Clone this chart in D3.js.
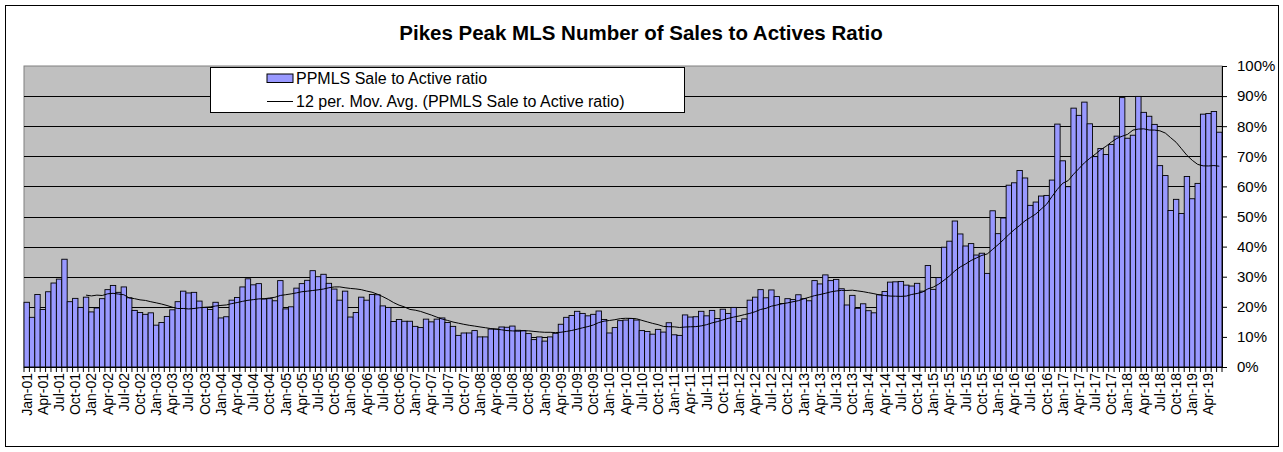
<!DOCTYPE html>
<html>
<head>
<meta charset="utf-8">
<script src="https://cdn.jsdelivr.net/npm/d3@7"></script>
<style>
  body { margin: 0; background: #fff; }
  text { font-family: "Liberation Sans", Arial, sans-serif; }
</style>
</head>
<body>
<svg id="chart" width="1283" height="452"></svg>
<script>
// month + year parts used for the category names (Jan-01 .. Jun-19)
var monthNames = ["Jan","Feb","Mar","Apr","May","Jun","Jul","Aug","Sep","Oct","Nov","Dec"];
var years = ["01","02","03","04","05","06","07","08","09","10",
             "11","12","13","14","15","16","17","18","19"];
var categories = years.flatMap(function(y) {
  return monthNames.map(function(m) { return m + "-" + y; });
}).slice(0, 222);

// PPMLS sale to active ratio, in percent
var ratio = [
  21.5,16.5,24.1,19.1,25.0,27.9,29.2,35.8,21.7,22.8,19.8,23.2,
  18.3,19.6,22.7,25.7,27.1,24.8,26.6,23.0,18.8,18.1,17.5,18.0,
  13.9,14.8,16.8,19.0,21.7,25.2,24.6,24.8,21.9,19.8,19.1,21.5,
  16.3,16.7,22.2,23.1,26.6,29.3,27.3,27.7,22.6,22.7,22.0,28.7,
  19.3,20.0,26.2,27.7,28.8,32.0,30.0,30.8,27.8,25.9,22.2,25.2,
  16.6,18.1,23.2,22.2,24.1,24.0,20.3,19.8,15.1,15.8,15.2,15.2,
  13.5,13.1,15.9,15.0,15.9,16.3,14.8,13.5,10.5,11.3,11.3,12.1,
  10.0,10.0,12.6,12.6,13.3,13.2,13.6,12.2,12.1,11.1,9.1,10.0,
  8.6,10.0,11.2,14.2,16.5,17.1,18.5,17.8,17.0,17.5,18.6,15.8,
  11.3,13.1,15.4,15.6,16.1,15.6,12.1,11.8,10.9,12.5,11.6,14.7,
  10.7,10.5,17.3,16.6,16.7,18.5,17.0,18.8,16.1,19.2,17.8,19.8,
  15.1,16.0,22.2,23.2,25.7,23.0,25.6,23.4,21.1,22.7,22.4,24.0,
  22.7,22.0,28.7,27.6,30.6,28.7,29.1,26.0,20.6,23.8,19.5,21.0,
  18.7,18.0,24.0,25.1,28.2,28.3,28.4,27.2,26.9,27.8,25.2,33.7,
  25.8,29.7,39.8,41.8,48.5,44.2,40.2,41.0,37.2,37.8,31.1,51.9,
  44.3,49.5,60.4,61.2,65.3,62.8,53.7,54.8,56.8,57.0,62.1,80.7,
  68.5,59.9,86.0,83.6,88.0,80.8,69.9,72.6,70.6,73.9,76.7,89.5,
  76.0,77.0,89.9,84.6,83.3,80.6,66.9,63.6,52.0,55.7,51.0,63.3,
  55.9,61.0,84.0,84.2,84.9,78.0
];

var yTicks = [0,10,20,30,40,50,60,70,80,90,100];

// 12 period moving average trendline (as the Excel trendline does)
var period = 12;
var movAvg = ratio.map(function(v, i) {
  return i < period - 1 ? null : d3.mean(ratio.slice(i - period + 1, i + 1));
});

var svg = d3.select("#chart");

// outer chart frame
svg.append("rect")
  .attr("x", 5.5).attr("y", 5.5)
  .attr("width", 1273).attr("height", 441)
  .attr("fill", "#fff").attr("stroke", "#000");

// title
svg.append("text")
  .attr("x", 641).attr("y", 40)
  .attr("text-anchor", "middle")
  .style("font-size", "20.5px")
  .style("font-weight", "bold")
  .text("Pikes Peak MLS Number of Sales to Actives Ratio");

// plot area edges
var plotLeft = 24, plotRight = 1222, plotTop = 66, plotBottom = 367;

var x = d3.scaleBand()
  .domain(categories)
  .range([plotLeft, plotRight])
  .padding(0);

var y = d3.scaleLinear()
  .domain([0, 100])
  .range([plotBottom, plotTop]);

// plot area
svg.append("rect")
  .attr("x", plotLeft).attr("y", plotTop)
  .attr("width", plotRight - plotLeft).attr("height", plotBottom - plotTop)
  .attr("fill", "#c0c0c0")
  .attr("stroke", "#808080");

// gridlines
svg.append("g")
  .selectAll("line")
  .data(yTicks.slice(1, -1))
  .join("line")
    .attr("x1", plotLeft).attr("x2", plotRight)
    .attr("y1", function(d) { return Math.round(y(d)) + 0.5; })
    .attr("y2", function(d) { return Math.round(y(d)) + 0.5; })
    .attr("stroke", "#000");

// bars
svg.append("g")
  .selectAll("rect")
  .data(ratio)
  .join("rect")
    .attr("x", function(d, i) { return x(categories[i]); })
    .attr("y", function(d) { return y(d); })
    .attr("width", x.bandwidth())
    .attr("height", function(d) { return y(0) - y(d); })
    .attr("fill", "#9999ff")
    .attr("stroke", "#000")
    .attr("stroke-width", 0.9);

// moving average line
var line = d3.line()
  .defined(function(d) { return d !== null; })
  .x(function(d, i) { return x(categories[i]) + x.bandwidth() / 2; })
  .y(function(d) { return y(d); });

svg.append("path")
  .datum(movAvg)
  .attr("d", line)
  .attr("fill", "none")
  .attr("stroke", "#000")
  .attr("stroke-width", 1);

// right y-axis with percent labels
var yAxis = d3.axisRight(y)
  .tickValues(yTicks)
  .tickSize(5)
  .tickPadding(10)
  .tickFormat(function(d) { return d + "%"; });

var gy = svg.append("g")
  .attr("transform", "translate(" + plotRight + ",0)")
  .call(yAxis);
gy.select(".domain").attr("stroke", "#000");
gy.selectAll("text")
  .style("font-size", "15px")
  .style("font-family", "'Liberation Sans', Arial, sans-serif")
  .attr("fill", "#000");

// x-axis line and tick marks between categories
var gx = svg.append("g");
gx.append("line")
  .attr("x1", plotLeft).attr("x2", plotRight)
  .attr("y1", plotBottom + 0.5).attr("y2", plotBottom + 0.5)
  .attr("stroke", "#000");
gx.selectAll(".tk")
  .data(categories.concat(["end"]))
  .join("line")
    .attr("class", "tk")
    .attr("x1", function(d, i) { return i < categories.length ? x(d) : plotRight; })
    .attr("x2", function(d, i) { return i < categories.length ? x(d) : plotRight; })
    .attr("y1", plotBottom).attr("y2", plotBottom + 5)
    .attr("stroke", "#000");

// category labels, every third month, rotated
gx.selectAll(".lbl")
  .data(categories.filter(function(d, i) { return i % 3 === 0; }))
  .join("text")
    .attr("class", "lbl")
    .attr("transform", function(d) {
      return "translate(" + (x(d) + x.bandwidth() / 2) + "," + (plotBottom + 6) + ") rotate(-90)";
    })
    .attr("dy", "0.35em")
    .attr("text-anchor", "end")
    .style("font-size", "14px")
    .text(function(d) { return d; });

// legend
var legend = svg.append("g");
legend.append("rect")
  .attr("x", 210.5).attr("y", 67.5)
  .attr("width", 474).attr("height", 45)
  .attr("fill", "#fff").attr("stroke", "#000");
legend.append("rect")
  .attr("x", 267).attr("y", 74)
  .attr("width", 26).attr("height", 8.5)
  .attr("fill", "#9999ff").attr("stroke", "#000");
legend.append("text")
  .attr("x", 296).attr("y", 84)
  .style("font-size", "16px")
  .text("PPMLS Sale to Active ratio");
legend.append("line")
  .attr("x1", 267).attr("x2", 293)
  .attr("y1", 101.5).attr("y2", 101.5)
  .attr("stroke", "#000");
legend.append("text")
  .attr("x", 296).attr("y", 107)
  .style("font-size", "16px")
  .text("12 per. Mov. Avg. (PPMLS Sale to Active ratio)");
</script>
</body>
</html>
